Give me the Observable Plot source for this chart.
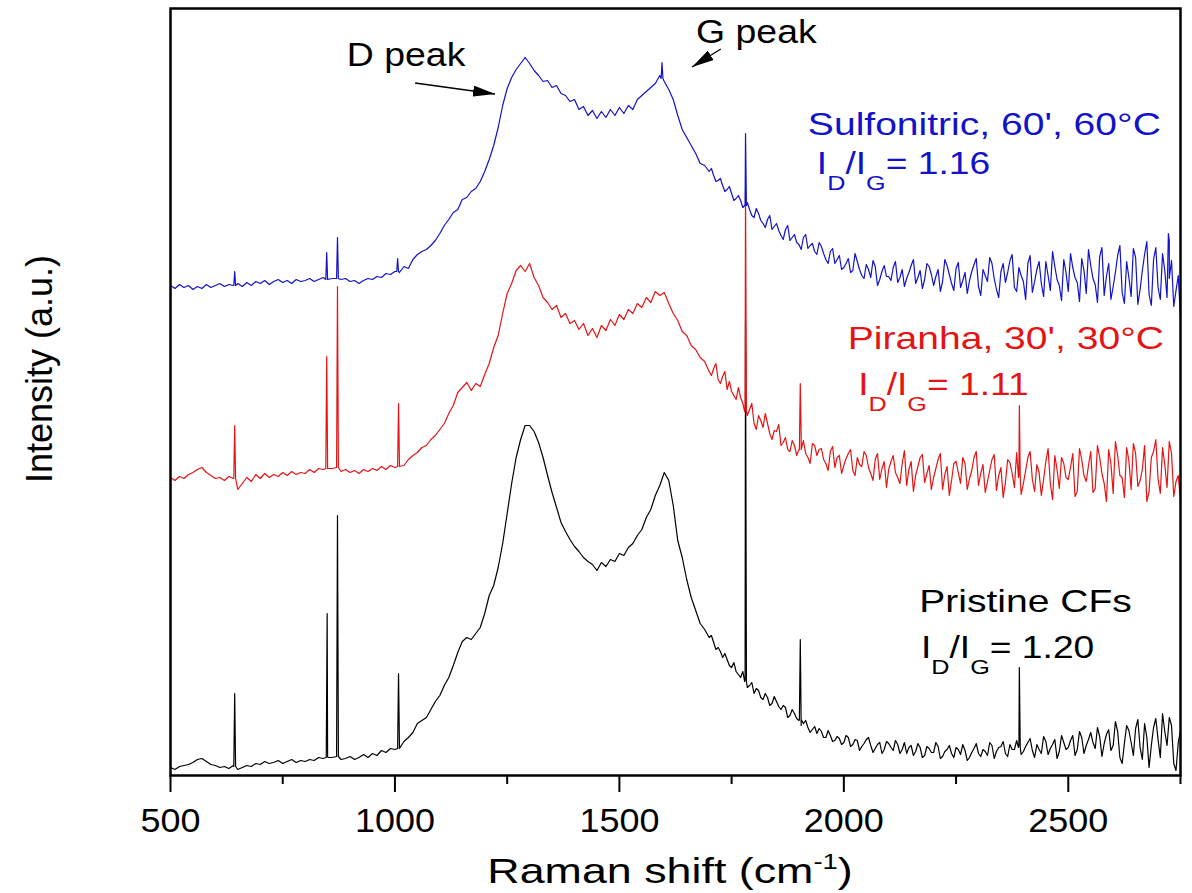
<!DOCTYPE html>
<html><head><meta charset="utf-8">
<script src="https://cdn.jsdelivr.net/npm/d3@7"></script>
<script src="https://cdn.jsdelivr.net/npm/@observablehq/plot@0.6"></script>
<style>body{margin:0;background:#fff}</style>
</head><body><div id="chart"></div>
<script>
// Raman shift grid (cm^-1), 10 cm^-1 step
const shift = d3.range(500, 2751, 10);
// extra half-step readings in the noisy tail (1705 ... 2745)
const tailShift = d3.range(1705, 2746, 10);

// Intensity (a.u., offset-stacked as in the figure)
const pristine = [
  8, 6, 9, 10, 11, 13, 16, 17, 14, 11,
  10, 8, 9, 7, 10, 6, 8, 10, 9, 12,
  11, 14, 12, 13, 15, 12, 14, 16, 13, 15,
  14, 16, 15, 18, 17, 19, 18, 19, 16, 17,
  19, 16, 18, 21, 18, 22, 20, 25, 23, 27,
  26, 30, 34, 38, 43, 52, 55, 58, 66, 74,
  80, 90, 98, 110, 123, 134, 138, 136, 142, 148,
  162, 180, 190, 208, 232, 262, 292, 318, 336, 350,
  350, 344, 333, 318, 300, 283, 268, 253, 244, 236,
  229, 224, 218, 214, 211, 205, 213, 209, 216, 214,
  222, 220, 228, 232, 240, 246, 258, 266, 280, 290,
  303, 295, 270, 235, 218, 196, 178, 165, 152, 146,
  138, 133, 128, 118, 116, 108, 104, 98, 95, 90,
  82, 85, 76, 78, 72, 74, 66, 68, 60, 62,
  55, 52, 48, 46, 42, 44, 38, 40, 35, 37,
  33, 38, 31, 35, 29, 36, 30, 27, 33, 26,
  32, 25, 31, 26, 22, 30, 24, 28, 20, 27,
  23, 29, 19, 26, 22, 28, 21, 25, 18, 27,
  22, 26, 20, 30, 24, 29, 22, 31, 26, 30,
  24, 33, 25, 31, 22, 34, 27, 36, 24, 33,
  28, 40, 26, 38, 30, 43, 27, 39, 32, 46,
  30, 44, 12, 50, 33, 47, 28, 52, 8, 48,
  36, 62, 30, 50, 5, 45
];
const pristineTail = [
  140, 126, 124, 122, 110, 113, 101, 104, 88, 93,
  87, 78, 82, 70, 79, 69, 70, 58, 66, 57,
  50, 55, 43, 49, 47, 38, 45, 34, 39, 31,
  40, 29, 36, 25, 32, 38, 23, 31, 22, 34,
  28, 35, 22, 33, 28, 20, 32, 18, 29, 23,
  33, 17, 24, 30, 18, 26, 31, 15, 23, 32,
  19, 24, 33, 17, 28, 34, 19, 26, 35, 21,
  29, 37, 18, 26, 39, 21, 31, 17, 40, 26,
  35, 20, 44, 22, 36, 33, 48, 19, 41, 25,
  54, 18, 32, 45, 20, 56, 16, 38, 30, 57,
  18, 44, 58, 12, 33
];
const piranha = [
  298, 295, 299, 297, 301, 303, 306, 308, 303, 300,
  297, 298, 295, 299, 297, 286, 292, 298, 294, 301,
  297, 302, 298, 301, 299, 303, 300, 304, 301, 303,
  302, 306, 303, 307, 306, 308, 307, 308, 304, 306,
  303, 305, 302, 306, 304, 307, 305, 309, 306, 310,
  308, 313, 310, 316, 320, 323, 328, 330, 336, 340,
  346, 352, 362, 370, 383, 388, 393, 385, 392, 389,
  401, 412, 428, 440, 462, 482, 492, 505, 510, 504,
  512, 498, 490, 478, 473, 466, 470, 458, 462, 452,
  455, 446, 452, 440, 447, 438, 450, 445, 456, 450,
  461, 456, 466, 462, 472, 468, 478, 473, 484, 480,
  483, 472, 462, 455, 444, 440, 430, 426, 418, 414,
  404, 407, 396, 399, 386, 384, 376, 378, 364, 366,
  352, 360, 348, 352, 336, 344, 330, 338, 324, 330,
  326, 335, 318, 332, 320, 327, 312, 324, 308, 320,
  310, 322, 305, 318, 309, 320, 302, 316, 296, 314,
  306, 320, 298, 312, 290, 314, 300, 318, 293, 310,
  298, 316, 286, 309, 295, 314, 292, 312, 297, 318,
  290, 311, 294, 316, 285, 308, 293, 313, 288, 300,
  292, 318, 296, 311, 280, 314, 292, 320, 287, 312,
  296, 322, 284, 316, 294, 324, 287, 318, 292, 326,
  282, 320, 298, 328, 286, 322, 295, 330, 284, 324,
  297, 328, 288, 322, 294, 275
];
const piranhaTail = [
  400, 412, 392, 404, 394, 380, 388, 372, 360, 372,
  346, 355, 362, 342, 345, 351, 333, 326, 335, 320,
  338, 322, 312, 330, 326, 316, 305, 329, 318, 302,
  317, 326, 300, 311, 324, 308, 295, 322, 307, 288,
  314, 303, 292, 325, 306, 284, 309, 321, 302, 286,
  307, 322, 301, 280, 312, 303, 318, 286, 305, 324,
  302, 283, 305, 321, 300, 278, 316, 302, 323, 281,
  305, 324, 284, 303, 296, 327, 276, 306, 318, 298,
  308, 279, 327, 300, 310, 283, 330, 302, 274, 312,
  334, 300, 278, 315, 332, 289, 306, 274, 318, 336,
  282, 311, 334, 279, 300
];
const sulfonitric = [
  490, 487, 491, 488, 490, 486, 489, 487, 491, 488,
  490, 492, 489, 491, 490, 492, 489, 493, 490, 494,
  492, 495, 491, 494, 496, 493, 495, 492, 496, 494,
  495, 497, 494, 496, 498, 496, 497, 497, 496, 497,
  494, 495, 492, 495, 497, 496, 499, 498, 502, 501,
  504, 503, 509, 507, 516, 521, 524, 526, 530, 535,
  542, 550, 556, 563, 566, 576, 578, 584, 587, 594,
  604, 616, 630, 648, 670, 687, 698, 706, 712, 718,
  712, 705, 700, 694, 695, 688, 690, 682, 680, 674,
  676, 666, 669, 660, 665, 657, 664, 658, 666, 660,
  668, 662, 670, 666, 676, 680, 684, 688, 692, 700,
  694, 686, 676, 660, 646, 638, 630, 622, 612, 610,
  604, 600, 595, 590, 586, 582, 577, 575, 570, 566,
  558, 562, 552, 556, 546, 552, 540, 546, 535, 541,
  531, 538, 527, 532, 521, 529, 516, 524, 512, 520,
  508, 517, 505, 514, 500, 511, 498, 509, 496, 510,
  499, 508, 493, 506, 497, 510, 492, 505, 496, 509,
  490, 506, 494, 510, 492, 507, 488, 503, 495, 511,
  489, 506, 494, 512, 486, 504, 493, 515, 488, 508,
  494, 512, 483, 506, 492, 514, 485, 509, 490, 516,
  484, 508, 493, 517, 482, 510, 491, 519, 480, 512,
  489, 520, 483, 514, 479, 518, 486, 521, 481, 516,
  488, 522, 478, 515, 485, 458
];
const sulfonitricTail = [
  607, 594, 597, 584, 589, 575, 580, 568, 573, 560,
  567, 555, 548, 560, 549, 545, 536, 550, 538, 533,
  526, 541, 530, 524, 533, 522, 512, 527, 516, 506,
  512, 503, 522, 506, 497, 506, 515, 490, 504, 499,
  495, 514, 498, 489, 503, 516, 498, 487, 512, 501,
  499, 484, 516, 501, 485, 513, 495, 482, 504, 517,
  480, 500, 518, 497, 478, 512, 503, 521, 484, 500,
  476, 520, 494, 514, 479, 500, 524, 496, 475, 503,
  522, 498, 474, 505, 526, 497, 473, 528, 499, 476,
  503, 530, 472, 498, 527, 471, 505, 534, 470, 528,
  476, 505, 535, 469, 500
];

// Narrow spikes (position, top, base at the foot)
const pristineSpikeShift = [643, 849, 872, 1008, 1781, 1903, 2391];
const pristineSpikeTop   = [82, 162, 260, 102, 455, 136, 108];
const pristineSpikeBase  = [9, 18, 19, 27, 94, 56, 28];
const piranhaSpikeShift  = [643, 848, 872, 1008, 1781, 1903, 2391];
const piranhaSpikeTop    = [350, 419, 489, 372, 585, 392, 370];
const piranhaSpikeBase   = [297, 307, 308, 309, 364, 326, 298];
const sulfoSpikeShift    = [643, 848, 872, 1006, 1595, 1781, 2723];
const sulfoSpikeTop      = [504, 523, 538, 517, 713, 642, 542];
const sulfoSpikeBase     = [490, 496, 497, 504, 697, 570, 497];

const majorTicks = [500, 1000, 1500, 2000, 2500];
const minorTicks = [750, 1250, 1750, 2250, 2750];

const BLUE = "#1212c8", RED = "#e41414", BLACK = "#000000";

function series(values, tail, sx, st, sb) {
  const rows = shift.map((s, i) => ({shift: s, value: values[i]}));
  tailShift.forEach((s, i) => rows.push({shift: s, value: tail[i]}));
  sx.forEach((x, i) => {
    rows.push({shift: x - 2, value: sb[i]});
    rows.push({shift: x, value: st[i]});
    rows.push({shift: x + 2, value: sb[i]});
  });
  return rows.sort((a, b) => a.shift - b.shift);
}
const dPristine = series(pristine, pristineTail, pristineSpikeShift, pristineSpikeTop, pristineSpikeBase);
const dPiranha = series(piranha, piranhaTail, piranhaSpikeShift, piranhaSpikeTop, piranhaSpikeBase);
const dSulfo = series(sulfonitric, sulfonitricTail, sulfoSpikeShift, sulfoSpikeTop, sulfoSpikeBase);

const FONT = "'Liberation Sans', Arial, Helvetica, sans-serif";

const plot = Plot.plot({
  width: 1192, height: 893,
  marginLeft: 170, marginRight: 12, marginTop: 8, marginBottom: 118,
  style: {fontFamily: FONT, background: "white", color: "black"},
  x: {domain: [500, 2750]},
  y: {domain: [0, 767], axis: null},
  marks: [
    Plot.line(dPristine, {x: "shift", y: "value", stroke: BLACK, strokeWidth: 1.2}),
    Plot.line(dPiranha, {x: "shift", y: "value", stroke: RED, strokeWidth: 1.2}),
    Plot.line(dSulfo, {x: "shift", y: "value", stroke: BLUE, strokeWidth: 1.2}),
    Plot.frame({stroke: "black", strokeWidth: 2.5}),
    Plot.axisX(majorTicks, {tickSize: 17, tickPadding: 16, fontSize: 33, strokeWidth: 2, label: null, tickFormat: d => String(d)}),
    Plot.axisX(minorTicks, {tickSize: 9, strokeWidth: 2, label: null, tickFormat: () => ""})
  ]
});

document.getElementById("chart").appendChild(plot);
const svg = d3.select(plot);
const xs = plot.scale("x"), ys = plot.scale("y");
const X = v => xs.apply(v), Y = v => ys.apply(v);

// stretch tick labels slightly (as in the source figure)
svg.selectAll('g[aria-label="x-axis tick label"] text').each(function() {
  const t = d3.select(this);
  const tr = t.attr("transform") || "";
  t.attr("transform", tr + " scale(1.09,1)");
});

const g = svg.append("g").attr("font-family", FONT).attr("text-anchor", "start");

// axis titles
const xt = g.append("text")
  .attr("transform", "translate(670,883) scale(1.245,1)")
  .attr("text-anchor", "middle").attr("font-size", 36).attr("fill", "black");
xt.append("tspan").text("Raman shift (cm");
xt.append("tspan").attr("font-size", 22).attr("dy", -14).text("-1");
xt.append("tspan").attr("dy", 14).text(")");

g.append("text")
  .attr("transform", "translate(52,369) rotate(-90)")
  .attr("text-anchor", "middle").attr("font-size", 36).attr("fill", "black")
  .text("Intensity (a.u.)");

// peak annotations
const peakLabels = [
  {text: "D peak", shift: 894, value: 709},
  {text: "G peak", shift: 1672, value: 732}
];
const peakArrows = [
  {x1: 1046, y1: 692, x2: 1224, y2: 681},
  {x1: 1727, y1: 726, x2: 1663, y2: 708}
];
peakLabels.forEach(d => {
  g.append("text")
    .attr("transform", `translate(${X(d.shift)},${Y(d.value)}) scale(1.1,1)`)
    .attr("text-anchor", "start")
    .attr("font-size", 34).attr("fill", "black").text(d.text);
});
svg.append("defs").append("marker")
  .attr("id", "ahead").attr("markerUnits", "userSpaceOnUse")
  .attr("markerWidth", 22).attr("markerHeight", 11)
  .attr("refX", 22).attr("refY", 5.5).attr("orient", "auto")
  .append("path").attr("d", "M0,0 L22,5.5 L0,11 z").attr("fill", "black");
peakArrows.forEach(d => {
  g.append("line")
    .attr("x1", X(d.x1)).attr("y1", Y(d.y1))
    .attr("x2", X(d.x2)).attr("y2", Y(d.y2))
    .attr("stroke", "black").attr("stroke-width", 1.3)
    .attr("marker-end", "url(#ahead)");
});

// sample labels
const sampleNames = ["Sulfonitric, 60', 60°C", "Piranha, 30', 30°C", "Pristine CFs"];
const sampleColors = [BLUE, RED, BLACK];
const nameShift = [1921, 2010, 2169];
const nameValue = [640, 426, 163];
const ratioText = ["1.16", "1.11", "1.20"];
const ratioShift = [1941, 2033, 2173];
const ratioValue = [601, 380, 117];

sampleNames.forEach((name, i) => {
  g.append("text")
    .attr("transform", `translate(${X(nameShift[i])},${Y(nameValue[i])}) scale(1.26,1)`)
    .attr("text-anchor", "start")
    .attr("font-size", 31).attr("fill", sampleColors[i]).text(name);
  const t = g.append("text")
    .attr("transform", `translate(${X(ratioShift[i])},${Y(ratioValue[i])}) scale(1.2,1)`)
    .attr("text-anchor", "start")
    .attr("font-size", 31).attr("fill", sampleColors[i]);
  t.append("tspan").text("I");
  t.append("tspan").attr("font-size", 21).attr("dy", 16).text("D");
  t.append("tspan").attr("dy", -16).text("/I");
  t.append("tspan").attr("font-size", 21).attr("dy", 16).text("G");
  t.append("tspan").attr("dy", -16).text("= " + ratioText[i]);
});
</script></body></html>
